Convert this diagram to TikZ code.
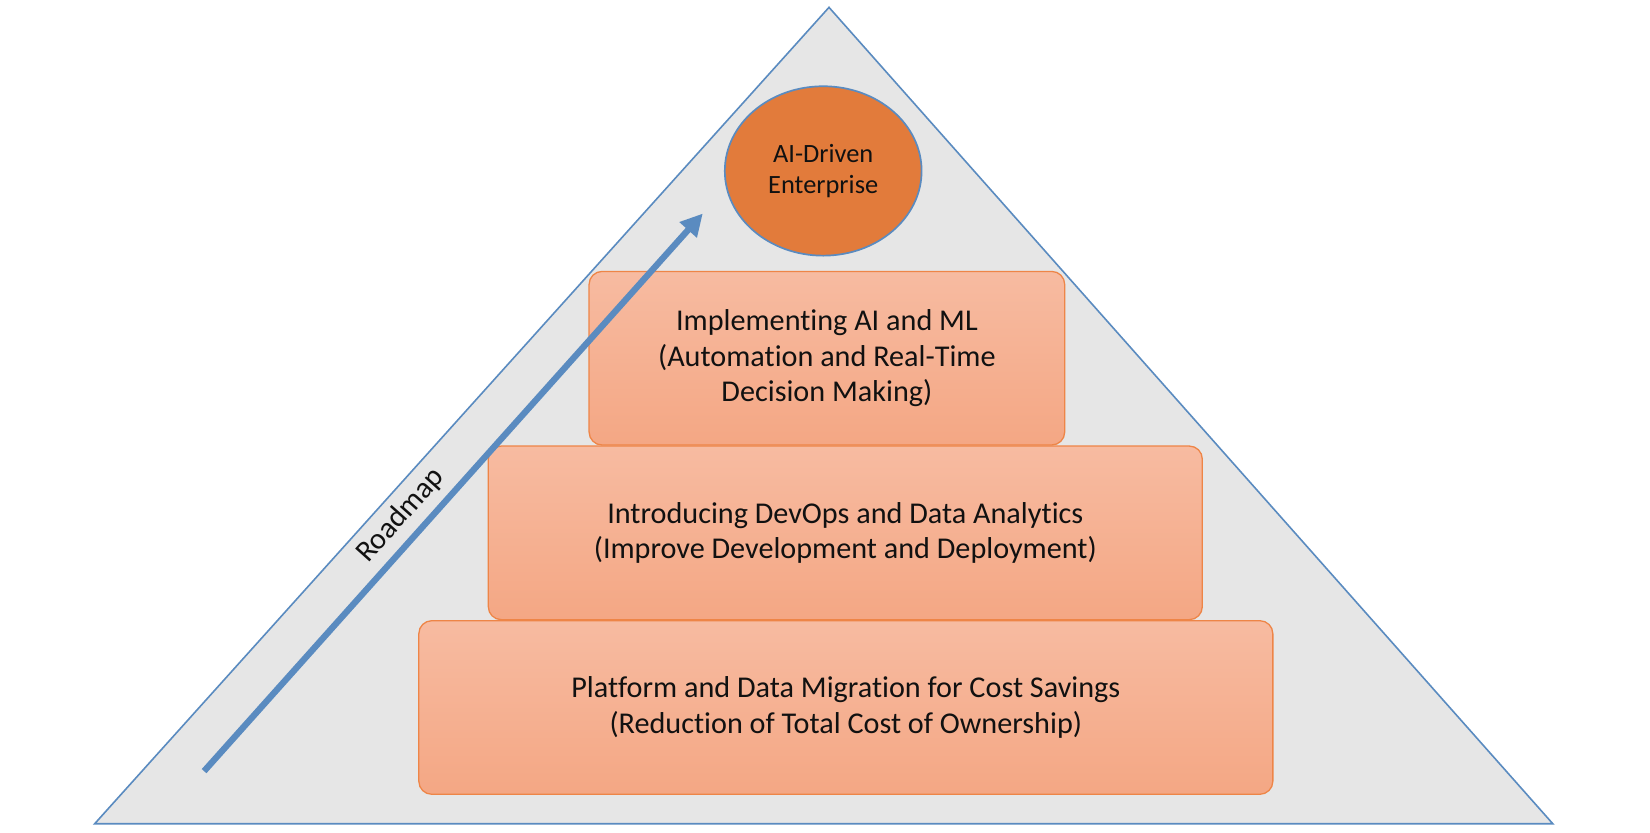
\documentclass[tikz,border=0pt]{standalone}
\usepackage{fontspec}
\setmainfont[Ligatures=NoCommon]{Carlito}
\usetikzlibrary{arrows.meta,shapes.geometric}
\definecolor{tblue}{HTML}{5A8BC0}
\definecolor{tgray}{HTML}{E6E6E6}
\definecolor{eorange}{HTML}{E27B3B}
\definecolor{btop}{HTML}{F7BBA1}
\definecolor{bbot}{HTML}{F4A784}
\definecolor{bline}{HTML}{EE8547}
\definecolor{txt}{HTML}{111111}
\tikzset{
  tier/.style={draw=bline, line width=0.65pt, top color=btop, bottom color=bbot,
    rounded corners=6.5pt, inner sep=0pt, minimum height=86.8pt, align=center,
    text=txt, font=\fontsize{15.1pt}{17.9pt}\selectfont},
  goal/.style={ellipse, draw=tblue, line width=0.85pt, fill=eorange, inner sep=0pt,
    minimum width=98.4pt, minimum height=84.7pt, align=center, text=txt,
    font=\fontsize{13.2pt}{15.8pt}\selectfont},
  road/.style={draw=tblue, line width=3.15pt, -{Triangle[length=11pt,width=11pt]}},
}
\begin{document}
\begin{tikzpicture}[x=0.526pt,y=-0.526pt]
\useasboundingbox (0,0) rectangle (1568.4,790.9);
\fill[white] (0,0) rectangle (1568.4,790.9);
% pyramid
\coordinate (apex) at (788,7);
\coordinate (bl) at (90,783);
\coordinate (br) at (1476,783);
\draw[tblue, fill=tgray, line width=0.8pt, line join=miter] (apex) -- (br) -- (bl) -- cycle;
% tiers
\node[tier, minimum width=427pt] (t1) at (804,672.5) {Platform and Data Migration for Cost Savings\\(Reduction of Total Cost of Ownership)};
\node[tier, minimum width=357pt] (t2) at (803.5,506.5) {Introducing DevOps and Data Analytics\\(Improve Development and Deployment)};
\node[tier, minimum width=237.8pt] (t3) at (786,340.5) {Implementing AI and ML\\(Automation and Real-Time\\Decision Making)};
% top goal
\node[goal] (g) at (782.5,162.5) {AI-Driven\\Enterprise};
% roadmap arrow
\coordinate (rs) at (194,733);
\coordinate (re) at (668,203);
\draw[road] (rs) -- (re);
\node[rotate=48.2, text=txt, font=\fontsize{15pt}{17pt}\selectfont] (rl) at (381,490) {Roadmap};
\end{tikzpicture}
\end{document}
